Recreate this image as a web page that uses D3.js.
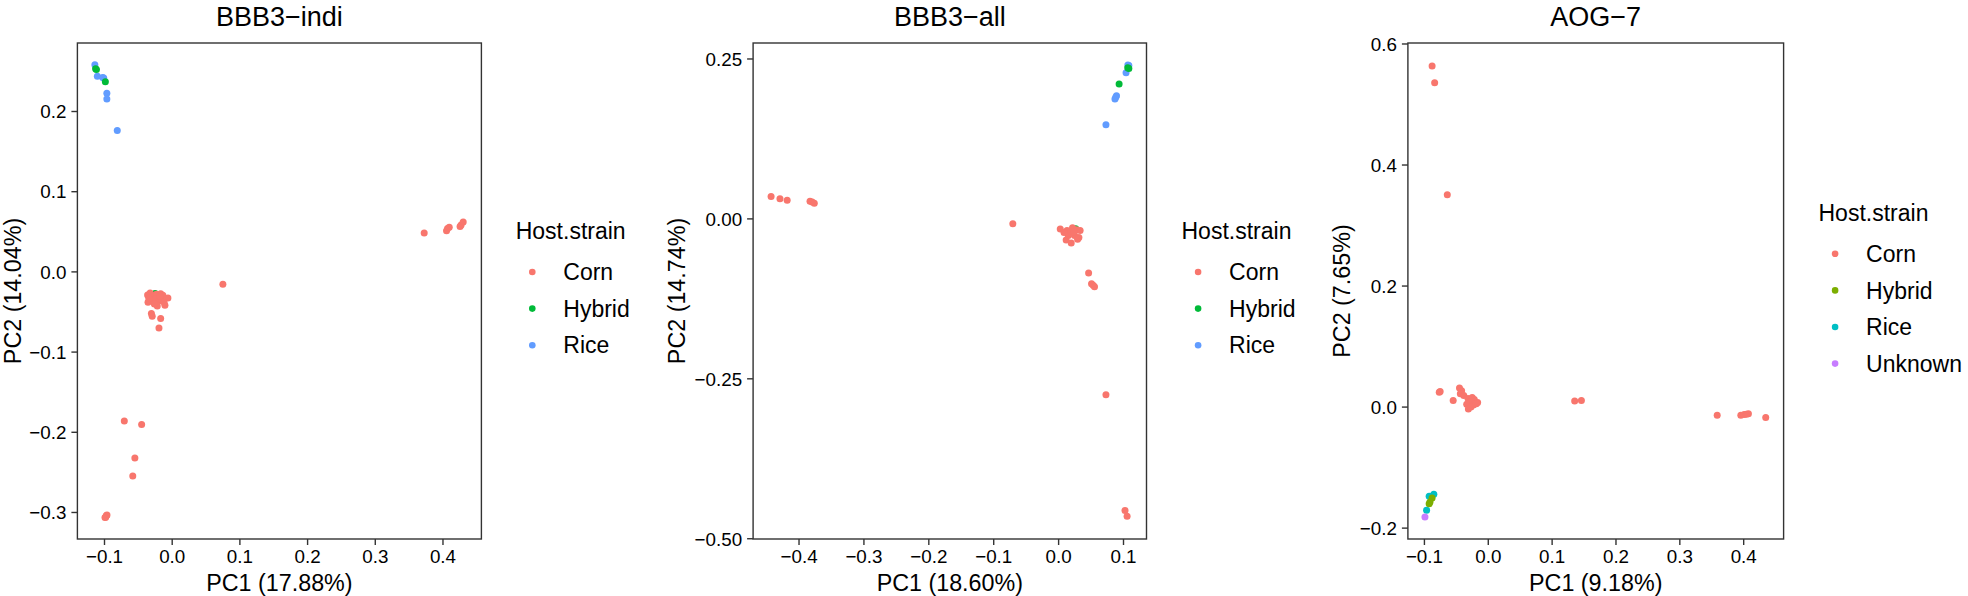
<!DOCTYPE html>
<html><head><meta charset="utf-8">
<script src="https://cdn.jsdelivr.net/npm/d3@7"></script>
<style>body{margin:0;background:#fff} text{font-family:"Liberation Sans",Arial,Helvetica,sans-serif;fill:#000}</style>
</head><body><svg id="c" width="1968" height="596"></svg>
<script>
// ---------- DATA ----------
const strains3 = ["Corn","Hybrid","Rice"];
const strains4 = ["Corn","Hybrid","Rice","Unknown"];
const colours3 = ["#F8766D","#00BA38","#619CFF"];
const colours4 = ["#F8766D","#7CAE00","#00BFC4","#C77CFF"];
const titles = ["BBB3\u2212indi","BBB3\u2212all","AOG\u22127"];
const xTitles = ["PC1 (17.88%)","PC1 (18.60%)","PC1 (9.18%)"];
const yTitles = ["PC2 (14.04%)","PC2 (14.74%)","PC2 (7.65%)"];
const legendTitle = "Host.strain";

const xTicks1 = [-0.1,0,0.1,0.2,0.3,0.4];
const yTicks1 = [-0.3,-0.2,-0.1,0,0.1,0.2];
const xTicks2 = [-0.4,-0.3,-0.2,-0.1,0,0.1];
const yTicks2 = [-0.5,-0.25,0,0.25];
const xTicks3 = [-0.1,0,0.1,0.2,0.3,0.4];
const yTicks3 = [-0.2,0,0.2,0.4,0.6];

// Panel 1: BBB3-indi
const indiRice = [[-0.1135,0.2576],[-0.1098,0.2434],[-0.1019,0.2417],[-0.1004,0.2410],[-0.0958,0.2222],[-0.0958,0.2151],[-0.0804,0.1758]];
const indiHybrid = [[-0.0245,-0.0275],[-0.1124,0.2528],[-0.1112,0.2517],[-0.0980,0.2364]];
const indiCorn = [[0.373,0.0479],[0.406,0.0507],[0.4075,0.0536],[0.410,0.0550],[0.426,0.0559],[0.4275,0.0578],[0.4306,0.0616],
  [0.0756,-0.0161],
  [-0.0356,-0.0294],[-0.0319,-0.0270],[-0.0275,-0.0303],[-0.0225,-0.0284],[-0.0163,-0.0280],[-0.0131,-0.0299],[-0.0056,-0.0332],
  [-0.0350,-0.0384],[-0.0288,-0.0360],[-0.0238,-0.0346],[-0.0194,-0.0370],[-0.0144,-0.0360],[-0.0100,-0.0422],[-0.0213,-0.0431],
  [-0.0300,-0.0526],[-0.0288,-0.0559],[-0.0163,-0.0588],[-0.0188,-0.0706],[-0.0256,-0.0408],[-0.0338,-0.0336],[-0.0175,-0.0313],[-0.0113,-0.0384],
  [-0.0700,-0.1867],[-0.0444,-0.1910],[-0.0544,-0.2327],[-0.0575,-0.2550],
  [-0.0956,-0.3038],[-0.0975,-0.3066],[-0.0965,-0.3045],[-0.0985,-0.3070]];

// Panel 2: BBB3-all
const allRice = [[0.1075,0.2398],[0.1090,0.2390],[0.1047,0.2276],[0.0900,0.1918],[0.0888,0.1892],[0.0876,0.1865],[0.0737,0.1465]];
const allHybrid = [[0.0270,-0.0160],[0.1073,0.2356],[0.1090,0.2343],[0.0940,0.2100]];
const allCorn = [[-0.4423,0.0344],[-0.4286,0.0308],[-0.4175,0.0285],[-0.3823,0.0267],[-0.3790,0.0255],[-0.3757,0.0237],
  [-0.0698,-0.0083],
  [0.0033,-0.0166],[0.0137,-0.0190],[0.0222,-0.0148],[0.0287,-0.0178],[0.0339,-0.0190],[0.0189,-0.0237],[0.0254,-0.0267],
  [0.0320,-0.0297],[0.0124,-0.0338],[0.0202,-0.0386],[0.0300,-0.0326],[0.0157,-0.0267],[0.0240,-0.0208],[0.0091,-0.0219],
  [0.0470,-0.0854],[0.0515,-0.1020],[0.0540,-0.1045],[0.0561,-0.1068],
  [0.0737,-0.2758],[0.1031,-0.4567],[0.1063,-0.4656]];

// Panel 3: AOG-7
const aogRice = [[-0.0845,-0.1449],[-0.0918,-0.1480],[-0.0958,-0.1713]];
const aogHybrid = [[-0.0872,-0.1512],[-0.0905,-0.1575],[-0.0918,-0.1606]];
const aogUnknown = [[-0.0984,-0.1826]];
const aogCorn = [[-0.0872,0.5627],[-0.0832,0.5351],[-0.0634,0.3501],
  [-0.0760,0.0238],[-0.0746,0.0251],[-0.0542,0.0100],[-0.0443,0.0307],[-0.0410,0.0263],[-0.0430,0.0213],[-0.0376,0.0182],
  [-0.0310,0.0132],[-0.0244,0.0151],[-0.0211,0.0119],[-0.0277,0.0069],[-0.0330,0.0038],[-0.0304,-0.0038],[-0.0159,0.0069],
  [-0.0225,0.0025],[-0.0264,-0.0006],[-0.0180,0.0045],
  [0.1361,0.0094],[0.1466,0.0100],
  [0.3593,-0.0144],[0.3963,-0.0144],[0.4016,-0.0132],[0.4082,-0.0119],[0.4050,-0.0128],[0.4353,-0.0182]];

// ---------- LAYOUT ----------
const svg = d3.select("#c");
const panels = [
  {title:titles[0], xt:xTitles[0], yt:yTitles[0], xTicks:xTicks1, yTicks:yTicks1, xFmt:".1f", yFmt:".1f",
   xDom:[-0.1393,0.4575], yDom:[-0.3337,0.2848], box:[77.4,481.4], yLabX:12.5, leg:[515.7,231],
   strains:strains3, colours:colours3, groups:[["Rice",indiRice],["Hybrid",indiHybrid],["Corn",indiCorn]]},
  {title:titles[1], xt:xTitles[1], yt:yTitles[1], xTicks:xTicks2, yTicks:yTicks2, xFmt:".1f", yFmt:".2f",
   xDom:[-0.470,0.1362], yDom:[-0.5012,0.2742], box:[753.1,1146.5], yLabX:676.5, leg:[1181.5,231],
   strains:strains3, colours:colours3, groups:[["Rice",allRice],["Hybrid",allHybrid],["Corn",allCorn]]},
  {title:titles[2], xt:xTitles[2], yt:yTitles[2], xTicks:xTicks3, yTicks:yTicks3, xFmt:".1f", yFmt:".1f",
   xDom:[-0.1251,0.4633], yDom:[-0.2188,0.6008], box:[1407.9,1783.6], yLabX:1342, leg:[1818.5,212.8],
   strains:strains4, colours:colours4, groups:[["Corn",aogCorn],["Rice",aogRice],["Hybrid",aogHybrid],["Unknown",aogUnknown]]}
];
const plotTop = 43, plotBottom = 539;

panels.forEach(p => {
  const x = d3.scaleLinear().domain(p.xDom).range(p.box);
  const y = d3.scaleLinear().domain(p.yDom).range([plotBottom, plotTop]);
  const col = d3.scaleOrdinal().domain(p.strains).range(p.colours);
  const g = svg.append("g");

  // points
  p.groups.forEach(([name, pts]) => {
    g.selectAll(null).data(pts).enter().append("circle")
      .attr("cx", d => x(d[0])).attr("cy", d => y(d[1])).attr("r", 3.5)
      .attr("fill", col(name));
  });

  // box
  g.append("rect").attr("x", p.box[0]).attr("y", plotTop)
    .attr("width", p.box[1]-p.box[0]).attr("height", plotBottom-plotTop)
    .attr("fill","none").attr("stroke","#333").attr("stroke-width",1.4);

  // axes
  const ax = g.append("g").attr("transform",`translate(0,${plotBottom})`)
    .call(d3.axisBottom(x).tickValues(p.xTicks).tickFormat(d3.format(p.xFmt)).tickSize(6).tickPadding(5));
  const ay = g.append("g").attr("transform",`translate(${p.box[0]},0)`)
    .call(d3.axisLeft(y).tickValues(p.yTicks).tickFormat(d3.format(p.yFmt)).tickSize(6).tickPadding(5));
  [ax, ay].forEach(a => {
    a.select(".domain").remove();
    a.selectAll(".tick line").attr("stroke","#333").attr("stroke-width",1.4);
    a.selectAll(".tick text").style("font-size","18.8px").attr("fill","#111")
      .style("font-family",'"Liberation Sans",Arial,sans-serif');
  });
  ay.selectAll(".tick text").attr("dy","0.36em");

  // titles
  const cx = (p.box[0]+p.box[1])/2;
  g.append("text").attr("x", cx).attr("y", 25.5).attr("text-anchor","middle")
    .style("font-size","27px").text(p.title);
  g.append("text").attr("x", cx).attr("y", 590.5).attr("text-anchor","middle")
    .style("font-size","23.3px").text(p.xt);
  g.append("text").attr("transform",`translate(${p.yLabX},${(plotTop+plotBottom)/2}) rotate(-90)`)
    .attr("text-anchor","middle").attr("dy","0.36em").style("font-size","23.3px").text(p.yt);

  // legend
  const lg = g.append("g").attr("transform",`translate(${p.leg[0]},${p.leg[1]})`);
  lg.append("text").attr("x",0).attr("y",0).attr("dy","0.36em").style("font-size","23px").text(legendTitle);
  p.strains.forEach((s,i) => {
    const yy = 41 + i*36.6;
    lg.append("circle").attr("cx", 16.6).attr("cy", yy).attr("r", 3.3).attr("fill", col(s));
    lg.append("text").attr("x", 47.6).attr("y", yy).attr("dy","0.36em").style("font-size","23px").text(s);
  });
});
</script></body></html>
